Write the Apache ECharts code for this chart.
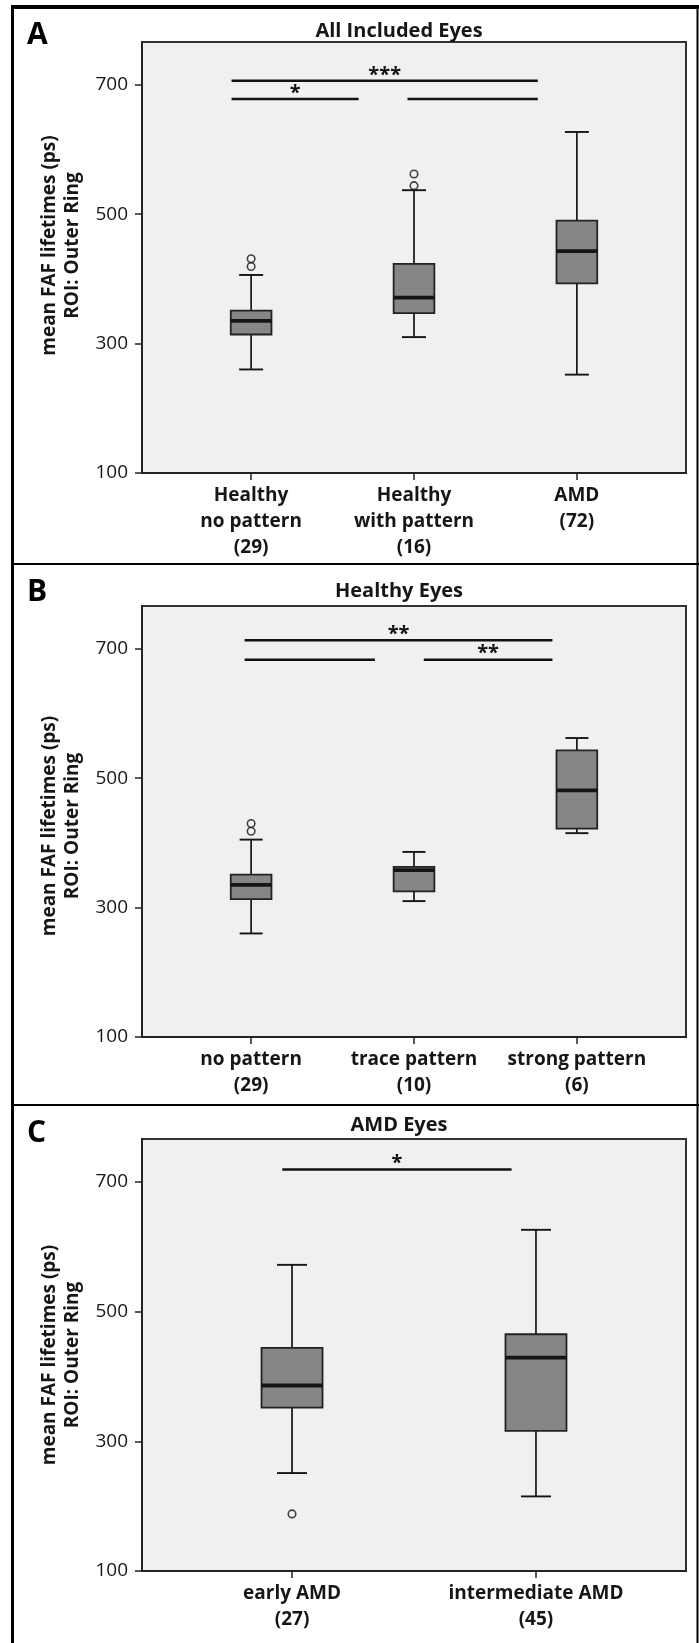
<!DOCTYPE html>
<html>
<head>
<meta charset="utf-8">
<script src="https://cdn.jsdelivr.net/npm/echarts@6/dist/echarts.min.js"></script>
<style>
html,body{margin:0;padding:0;background:#fff;}
#chart{width:699px;height:1643px;}
</style>
</head>
<body>
<div id="chart"></div>
<script>
// ---------- DATA ----------
const yTicks = [100, 300, 500, 700];

const catsA = ['Healthy\nno pattern\n(29)', 'Healthy\nwith pattern\n(16)', 'AMD\n(72)'];
// [lower whisker, Q1, median, Q3, upper whisker]
const boxA = [[260, 314, 335, 351, 406], [310, 347, 371, 423, 537], [252, 393, 443, 490, 627]];
const outA = [[0, 419], [0, 431], [1, 544], [1, 562]];
// [from, to, y, label]
const sigA = [[-0.12, 1.76, 706, '***'], [-0.12, 0.66, 678, '*'], [0.96, 1.76, 678, '']];

const catsB = ['no pattern\n(29)', 'trace pattern\n(10)', 'strong pattern\n(6)'];
const boxB = [[260, 313, 335, 351, 405], [310, 325, 358, 363, 386], [415, 422, 481, 543, 562]];
const outB = [[0, 418], [0, 430]];
const sigB = [[-0.04, 1.85, 713, '**'], [-0.04, 0.76, 683, ''], [1.06, 1.85, 683, '**']];

const catsC = ['early AMD\n(27)', 'intermediate AMD\n(45)'];
const boxC = [[251, 352, 386, 444, 572], [215, 316, 429, 465, 626]];
const outC = [[0, 188]];
const sigC = [[-0.04, 0.9, 719, '*']];

const titles = ['All Included Eyes', 'Healthy Eyes', 'AMD Eyes'];
const letters = ['A', 'B', 'C'];
const yName = 'mean FAF lifetimes (ps)\nROI: Outer Ring';

// ---------- STYLE / LAYOUT ----------
const FONT = '"Open Sans", "Noto Sans", sans-serif';
const INK = '#161616';
const panels = [
  {cats: catsA, box: boxA, out: outA, sig: sigA, top: 42, height: 431, xmin: -0.67, xmax: 2.67, cap: 24, namePad: [0, 0, 0, 24], titleY: 31, letterY: 35},
  {cats: catsB, box: boxB, out: outB, sig: sigB, top: 606, height: 431, xmin: -0.67, xmax: 2.67, cap: 23, namePad: [0, 9, 0, 0], titleY: 591, letterY: 592},
  {cats: catsC, box: boxC, out: outC, sig: sigC, top: 1139, height: 432, xmin: -0.615, xmax: 1.615, cap: 30, namePad: [0, 0, 0, 0], titleY: 1125, letterY: 1133}
];

const grids = [], xAxes = [], yAxes = [], series = [], graphics = [];

panels.forEach((p, i) => {
  const idx = p.cats.map((_, k) => k);
  grids.push({left: 142, top: p.top, width: 544, height: p.height, show: true,
    backgroundColor: '#f0f0f0', borderColor: '#333', borderWidth: 2,
    containLabel: false, outerBoundsMode: 'none'});
  xAxes.push({gridIndex: i, type: 'value', min: p.xmin, max: p.xmax,
    axisLine: {show: true, onZero: false, lineStyle: {color: '#222', width: 2}},
    axisTick: {show: true, customValues: idx, length: 7, lineStyle: {color: '#222', width: 1.5}},
    axisLabel: {customValues: idx, formatter: v => p.cats[Math.round(v)], margin: 10,
      lineHeight: 26, fontFamily: FONT, fontWeight: 'bold', fontSize: 19, color: INK},
    splitLine: {show: false}});
  yAxes.push({gridIndex: i, type: 'value', min: 100, max: 766,
    axisLine: {show: true, onZero: false, lineStyle: {color: '#222', width: 2}},
    axisTick: {show: true, customValues: yTicks, length: 7, lineStyle: {color: '#222', width: 1.5}},
    axisLabel: {customValues: yTicks, margin: 14, fontFamily: FONT, fontSize: 19, color: INK},
    splitLine: {show: false},
    name: yName, nameLocation: 'middle', nameGap: 57, nameRotate: 90,
    nameTextStyle: {fontFamily: FONT, fontWeight: 'bold', fontSize: 19, lineHeight: 23, color: INK, padding: p.namePad}});

  // boxes
  const capW = p.cap;
  series.push({type: 'custom', xAxisIndex: i, yAxisIndex: i,
    data: p.box.map((b, k) => [k].concat(b)),
    encode: {x: 0, y: [1, 2, 3, 4, 5]},
    renderItem: (params, api) => {
      const x = api.value(0);
      const lo = api.coord([x, api.value(1)]);
      const q1 = api.coord([x, api.value(2)]);
      const md = api.coord([x, api.value(3)]);
      const q3 = api.coord([x, api.value(4)]);
      const hi = api.coord([x, api.value(5)]);
      const bw = api.size([0.25, 0])[0];
      const cx = lo[0];
      const ln = (x1, y1, x2, y2, w) => ({type: 'line', shape: {x1, y1, x2, y2}, style: {stroke: '#151515', lineWidth: w}});
      return {type: 'group', children: [
        ln(cx, hi[1], cx, q3[1], 1.7),
        ln(cx, q1[1], cx, lo[1], 1.7),
        ln(cx - capW / 2, hi[1], cx + capW / 2, hi[1], 1.9),
        ln(cx - capW / 2, lo[1], cx + capW / 2, lo[1], 1.9),
        {type: 'rect', shape: {x: cx - bw / 2, y: q3[1], width: bw, height: q1[1] - q3[1]},
          style: {fill: '#868686', stroke: '#222', lineWidth: 1.8}},
        ln(cx - bw / 2, md[1], cx + bw / 2, md[1], 3.8)
      ]};
    }});
  // outliers
  series.push({type: 'scatter', xAxisIndex: i, yAxisIndex: i, data: p.out,
    symbol: 'circle', symbolSize: 7.5,
    itemStyle: {color: '#f4f4f4', borderColor: '#151515', borderWidth: 1.6}, z: 5});
  // significance bars
  const sigLabels = p.sig.map(s => s[3]);
  series.push({type: 'custom', xAxisIndex: i, yAxisIndex: i,
    data: p.sig.map(s => [s[0], s[1], s[2]]),
    encode: {x: [0, 1], y: 2},
    renderItem: (params, api) => {
      const a = api.coord([api.value(0), api.value(2)]);
      const b = api.coord([api.value(1), api.value(2)]);
      return {type: 'group', children: [
        {type: 'line', shape: {x1: a[0], y1: a[1], x2: b[0], y2: b[1]}, style: {stroke: '#111', lineWidth: 2.5}},
        {type: 'text', x: (a[0] + b[0]) / 2, y: a[1] - 6,
          style: {text: sigLabels[params.dataIndex], font: 'bold 20px ' + FONT, fill: '#111',
            align: 'center', verticalAlign: 'middle', textAlign: 'center', textVerticalAlign: 'middle'}}
      ]};
    }});

  graphics.push({type: 'text', x: 399, y: p.titleY,
    style: {text: titles[i], font: 'bold 20px ' + FONT, fill: INK, align: 'center', verticalAlign: 'middle', textAlign: 'center', textVerticalAlign: 'middle'}});
  graphics.push({type: 'text', x: 27, y: p.letterY,
    style: {text: letters[i], font: 'bold 30px ' + FONT, fill: '#000', align: 'left', verticalAlign: 'middle', textAlign: 'left', textVerticalAlign: 'middle'}});
});

// frame lines
const frame = (x1, y1, x2, y2, w) => ({type: 'line', shape: {x1, y1, x2, y2}, style: {stroke: '#000', lineWidth: w}});
graphics.push(frame(12.5, 5, 12.5, 1643, 3));
graphics.push(frame(11, 7, 699, 7, 4));
graphics.push(frame(697.5, 5, 697.5, 1643, 2));
graphics.push(frame(11, 564, 699, 564, 2));
graphics.push(frame(11, 1105, 699, 1105, 2));

const chart = echarts.init(document.getElementById('chart'), null, {renderer: 'canvas'});
chart.setOption({
  animation: false,
  backgroundColor: '#fff',
  grid: grids, xAxis: xAxes, yAxis: yAxes, series: series,
  graphic: {elements: graphics}
});
</script>
</body>
</html>
